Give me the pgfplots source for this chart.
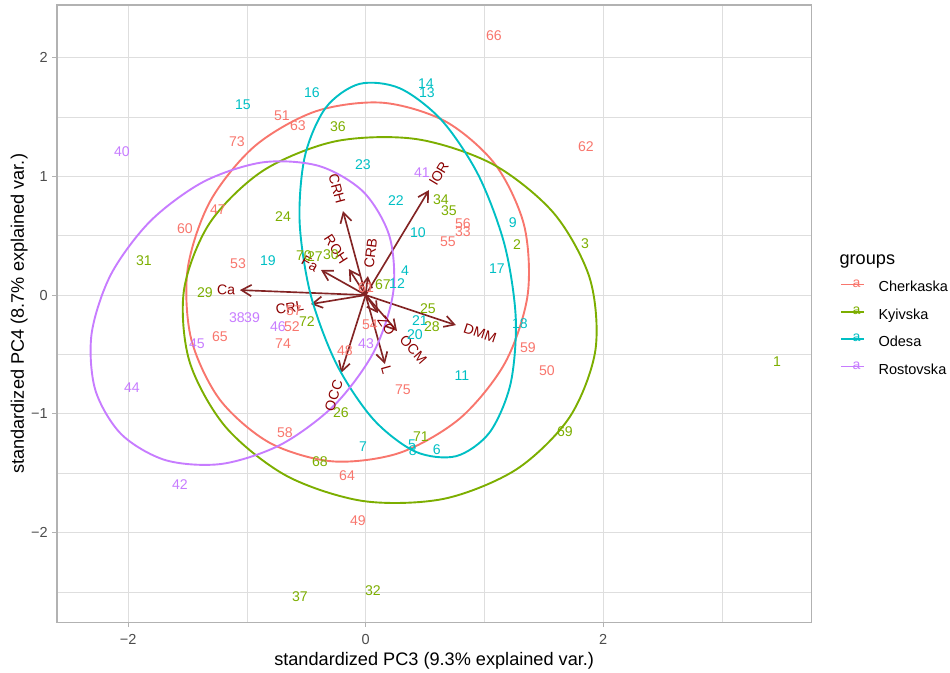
\documentclass[border=0pt]{standalone}
\usepackage{pgfplots}
\pgfplotsset{compat=1.18}
\usepackage{fontspec}
\setmainfont{Liberation Sans}
\usetikzlibrary{arrows.meta}

\definecolor{cherk}{HTML}{F8766D}
\definecolor{kyiv}{HTML}{7CAE00}
\definecolor{odesa}{HTML}{00BFC4}
\definecolor{rost}{HTML}{C77CFF}
\definecolor{arrowred}{HTML}{832424}
\definecolor{varred}{HTML}{8B0000}
\definecolor{grid87}{gray}{0.87}
\definecolor{grey70}{gray}{0.70}
\definecolor{grey30}{gray}{0.30}

\newcommand{\lblfont}{\fontsize{8.54}{10}\selectfont}
\newcommand{\lstrut}{\rule[-2.6pt]{0pt}{9.6pt}}

\pgfplotsset{
  varrow/.style={arrowred, line width=1pt, -{Straight Barb[length=6pt,width=6.9pt]}, forget plot},
  scorelab/.style={draw=none, forget plot, nodes near coords, point meta=explicit symbolic,
    nodes near coords align=center,
    nodes near coords style={font=\lblfont, inner sep=0pt, anchor=center}},
  % 16 points per ellipse, joined by a closed smooth curve
  ell/.style={line width=1.15pt, smooth cycle, tension=0.52, forget plot},
}
\tikzset{vname/.style={text=varred, font=\lblfont, inner ysep=0pt}}

\begin{document}
\begin{tikzpicture}
\useasboundingbox (-34.5pt,-30.6pt) rectangle (541.3pt,377.3pt);
\begin{axis}[
  scale only axis, width=457.3pt, height=374.2pt,
  xmin=-2.60, xmax=3.754, ymin=-2.758, ymax=2.442,
  xtick={-2,0,2}, xticklabels={−2,0,2},
  ytick={-2,-1,0,1,2}, yticklabels={−2,−1,0,1,2},
  minor xtick={-1,1,3}, minor ytick={-2.5,-1.5,-0.5,0.5,1.5},
  grid=both,
  major grid style={grid87, line width=0.53pt},
  minor grid style={grid87, line width=0.27pt},
  axis line style={grey70, line width=1.07pt},
  tick align=outside, major tick length=2.75pt, minor tick length=0pt,
  tick style={grey70, line width=0.53pt},
  xtick pos=bottom, ytick pos=left,
  ticklabel style={font=\fontsize{8.8}{10}\selectfont, text=grey30},
  xticklabel style={anchor=base, inner sep=0pt, yshift=-10.6pt},
  yticklabel style={anchor=east, inner sep=0pt, xshift=-2.6pt},
  xlabel={standardized PC3 (9.3\% explained var.)},
  ylabel={standardized PC4 (8.7\% explained var.)},
  label style={font=\fontsize{11}{13}\selectfont},
  xlabel style={at={([yshift=-25.8pt]axis description cs:0.5,0)}, anchor=base, inner sep=0pt},
  ylabel style={at={([xshift=-20pt]axis description cs:0,0.5)}, anchor=base, inner sep=0pt},
  legend style={at={(axis description cs:1,0.5)}, anchor=west, xshift=16pt, yshift=-0.6pt,
    draw=none, fill=none, inner sep=0pt, row sep=4.1pt,
    font=\fontsize{8.8}{10}\selectfont,
    /tikz/every odd column/.append style={column sep=6.4pt}},
  legend cell align=left,
  legend image code/.code={
    \draw[#1, line width=1.07pt] (1.73pt,1.8pt) -- (15.55pt,1.8pt);
    \node[#1, draw=none, inner sep=0pt, font=\lblfont] at (8.64pt,1.8pt) {a};
  },
]
% loading vectors
\addplot[varrow] coordinates {(0,0) (-1.059,0.042)};
\addplot[varrow] coordinates {(0,0) (-0.461,-0.076)};
\addplot[varrow] coordinates {(0,0) (-0.376,0.211)};
\addplot[varrow] coordinates {(0,0) (-0.141,0.219)};
\addplot[varrow] coordinates {(0,0) (-0.191,0.707)};
\addplot[varrow] coordinates {(0,0) (0.019,0.160)};
\addplot[varrow] coordinates {(0,0) (0.533,0.884)};
\addplot[varrow] coordinates {(0,0) (0.760,-0.253)};
\addplot[varrow] coordinates {(0,0) (0.264,-0.303)};
\addplot[varrow] coordinates {(0,0) (0.104,-0.152)};
\addplot[varrow] coordinates {(0,0) (0.162,-0.581)};
\addplot[varrow] coordinates {(0,0) (-0.208,-0.657)};

% observation labels, Cherkaska
\addplot[scorelab, nodes near coords style={text=cherk}] table[meta=lab] {
x y lab
1.080 2.181 66
1.855 1.246 62
-0.705 1.507 51
-0.570 1.423 63
-1.084 1.288 73
-1.244 0.716 47
-1.522 0.556 60
-1.075 0.261 53
0.819 0.598 56
0.819 0.531 33
0.693 0.446 55
-0.604 -0.135 57
-0.621 -0.269 52
-1.227 -0.354 65
-0.696 -0.413 74
0.036 -0.253 54
-0.174 -0.472 48
0.314 -0.800 75
1.367 -0.446 59
1.527 -0.640 50
-0.680 -1.162 58
-0.157 -1.524 64
-0.065 -1.903 49
0.003 0.059 61
};
% Kyivska
\addplot[scorelab, nodes near coords style={text=kyiv}] table[meta=lab] {
x y lab
3.464 -0.564 1
1.274 0.429 2
1.847 0.429 3
-0.233 1.415 36
0.634 0.800 34
0.701 0.707 35
-0.696 0.665 24
-1.867 0.286 31
-1.353 0.017 29
-0.520 0.328 70
-0.427 0.328 27
-0.292 0.337 30
0.146 0.084 67
-0.494 -0.227 72
0.525 -0.118 25
0.558 -0.269 28
-0.208 -0.994 26
0.466 -1.196 71
-0.385 -1.406 68
1.678 -1.154 69
-0.553 -2.543 37
0.061 -2.493 32
};
% Odesa
\addplot[scorelab, nodes near coords style={text=odesa}] table[meta=lab] {
x y lab
-1.033 1.600 15
-0.452 1.701 16
0.508 1.777 14
0.516 1.701 13
-0.023 1.095 23
0.255 0.792 22
0.440 0.522 10
1.240 0.606 9
1.106 0.219 17
0.331 0.202 4
0.264 0.093 12
-0.823 0.286 19
1.299 -0.244 18
0.457 -0.219 21
0.415 -0.337 20
0.811 -0.682 11
-0.023 -1.280 7
0.390 -1.263 5
0.398 -1.314 8
0.600 -1.305 6
};
% Rostovska
\addplot[scorelab, nodes near coords style={text=rost}] table[meta=lab] {
x y lab
-2.052 1.204 40
0.474 1.027 41
-1.084 -0.194 38
-0.957 -0.194 39
-0.739 -0.269 46
-1.421 -0.413 45
-1.968 -0.783 44
0.003 -0.413 43
-1.564 -1.600 42
};

% 68% concentration ellipses
\addplot[ell, cherk] coordinates {(0.673,1.462) (0.142,1.620) (-0.422,1.547) (-0.932,1.256) (-1.310,0.789) (-1.499,0.220) (-1.470,-0.367) (-1.228,-0.881) (-0.809,-1.244) (-0.277,-1.401) (0.287,-1.329) (0.796,-1.037) (1.174,-0.571) (1.364,-0.001) (1.335,0.585) (1.092,1.099)};
\addplot[ell, kyiv] coordinates {(1.935,-0.463) (1.888,0.139) (1.585,0.689) (1.071,1.102) (0.425,1.314) (-0.255,1.295) (-0.865,1.047) (-1.313,0.607) (-1.530,0.042) (-1.483,-0.561) (-1.180,-1.110) (-0.666,-1.523) (-0.020,-1.735) (0.660,-1.716) (1.270,-1.468) (1.718,-1.028)};
\addplot[ell, odesa] coordinates {(-0.054,1.778) (-0.336,1.578) (-0.512,1.169) (-0.556,0.614) (-0.462,-0.002) (-0.243,-0.586) (0.066,-1.048) (0.419,-1.319) (0.762,-1.357) (1.044,-1.157) (1.220,-0.748) (1.264,-0.193) (1.170,0.423) (0.951,1.007) (0.642,1.470) (0.289,1.741)};
\addplot[ell, rost] coordinates {(-0.018,0.868) (-0.392,1.087) (-0.865,1.118) (-1.364,0.955) (-1.813,0.623) (-2.145,0.174) (-2.308,-0.326) (-2.277,-0.798) (-2.058,-1.172) (-1.684,-1.391) (-1.211,-1.422) (-0.713,-1.259) (-0.263,-0.927) (0.069,-0.478) (0.232,0.022) (0.201,0.494)};

% variable names at the vector tips
\addplot[draw=none, forget plot] coordinates {(0,0) (-1.059,0.042)} node[vname, pos=1, anchor=east, rotate=-2.27, inner xsep=2.7pt] {Ca};
\addplot[draw=none, forget plot] coordinates {(0,0) (-0.461,-0.076)} node[vname, pos=1, anchor=east, rotate=9.36, inner xsep=4.3pt] {CRL};
\addplot[draw=none, forget plot] coordinates {(0,0) (-0.376,0.211)} node[vname, pos=1, anchor=east, rotate=-29.3, inner xsep=2.5pt] {Fa};
\addplot[draw=none, forget plot] coordinates {(0,0) (-0.141,0.219)} node[vname, pos=1, anchor=east, rotate=-57.2, inner xsep=4.7pt] {ROH};
\addplot[draw=none, forget plot] coordinates {(0,0) (-0.191,0.707)} node[vname, pos=1, anchor=east, rotate=-74.9, inner xsep=4.6pt] {CRH};
\addplot[draw=none, forget plot] coordinates {(0,0) (0.019,0.160)} node[vname, pos=1, anchor=west, rotate=83.2, inner xsep=4.5pt] {CRB};
\addplot[draw=none, forget plot] coordinates {(0,0) (0.533,0.884)} node[vname, pos=1, anchor=west, rotate=58.9, inner xsep=3.8pt] {IOR};
\addplot[draw=none, forget plot] coordinates {(0,0) (0.760,-0.253)} node[vname, pos=1, anchor=west, rotate=-18.4, inner xsep=5.1pt] {DMM};
\addplot[draw=none, forget plot] coordinates {(0,0) (0.264,-0.303)} node[vname, pos=1, anchor=west, rotate=-48.9, inner xsep=5pt] {OCM};
\addplot[draw=none, forget plot] coordinates {(0,0) (0.104,-0.152)} node[vname, pos=1, anchor=west, rotate=-55.6, inner xsep=3pt] {ZO};
\addplot[draw=none, forget plot] coordinates {(0,0) (0.162,-0.581)} node[vname, pos=1, anchor=west, rotate=-74.4, inner xsep=1.2pt] {L};
\addplot[draw=none, forget plot] coordinates {(0,0) (-0.208,-0.657)} node[vname, pos=1, anchor=east, rotate=72.4, inner xsep=4.7pt] {OCC};

% legend
\addlegendimage{empty legend}
\addlegendentry{\hspace*{-23.6pt}\fontsize{11}{13}\selectfont\rule[-5.4pt]{0pt}{12.4pt}groups}
\addlegendimage{color=cherk}
\addlegendentry{\lstrut Cherkaska}
\addlegendimage{color=kyiv}
\addlegendentry{\lstrut Kyivska}
\addlegendimage{color=odesa}
\addlegendentry{\lstrut Odesa}
\addlegendimage{color=rost}
\addlegendentry{\lstrut Rostovska}
\end{axis}
\end{tikzpicture}
\end{document}
